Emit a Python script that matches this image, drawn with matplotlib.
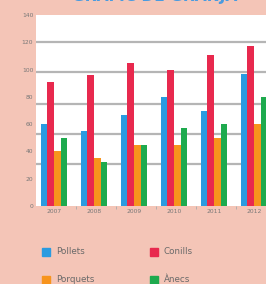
import numpy as np
import matplotlib
matplotlib.use("Agg")
import matplotlib.pyplot as plt
from matplotlib.patches import Rectangle

# data
years = ["2007", "2008", "2009", "2010", "2011", "2012"]
pollets = [60, 55, 67, 80, 70, 97]
conills = [91, 96, 105, 100, 111, 117]
porquets = [40, 35, 45, 45, 50, 60]
anecs = [50, 32, 45, 57, 60, 80]
series_names = ["Pollets", "Conills", "Porquets", "Ànecs"]
yticks = [0, 20, 40, 60, 80, 100, 120, 140]
grid_levels = [120, 98, 75, 53, 31]  # drawn lines don't sit on the labels in the original

bg = "#F4C5B7"
colors = ["#2A9BE0", "#E8294E", "#F7941D", "#1EAA4E"]
W, H = 266, 284

fig = plt.figure(figsize=(W / 100, H / 100), dpi=100, facecolor=bg)
ax = fig.add_axes([36 / W, 1 - 206 / H, 240 / W, 191 / H])
ax.set_facecolor("white")

x = np.arange(len(years))
bw = 0.165
for i, (vals, c) in enumerate(zip([pollets, conills, porquets, anecs], colors)):
    ax.bar(x + (i - 1.5) * bw - 0.05, vals, bw, color=c, zorder=3)

for g in grid_levels:
    ax.axhline(g, color="#b5b5b5", lw=1.6, zorder=1)

ax.set_xlim(-0.5, 5.5)
ax.set_ylim(0, 140)
ax.set_yticks(yticks)
ax.set_yticklabels([str(t) for t in yticks], fontsize=4.3, color="#777777")
ax.set_xticks(x - 0.05)
ax.set_xticklabels(years, fontsize=4.3, color="#777777")
ax.set_xticks(x[:-1] + 0.5, minor=True)
ax.tick_params(axis="both", which="major", length=0, pad=2)
ax.tick_params(axis="x", which="minor", length=2, color="#aaaaaa")
for s in ax.spines.values():
    s.set_visible(False)

# title, mostly cut off at the top of the picture (as in the original)
fig.text(155 / W, 1 - 1.5 / H, "GRÀFIC DE GRANJA", ha="center", va="baseline",
         fontsize=11.2, fontweight="bold", color="#4A9BE0")

# legend by hand
leg_pos = [(42, 248), (150, 248), (42, 276), (150, 276)]
for (lx, ly), name, c in zip(leg_pos, series_names, colors):
    fig.patches.append(Rectangle((lx / W, 1 - (ly + 8) / H), 8 / W, 8 / H,
                                 transform=fig.transFigure, color=c))
    fig.text((lx + 14) / W, 1 - (ly + 4) / H, name, ha="left", va="center",
             fontsize=6.3, color="#6a6a6a")

plt.savefig("out.png", dpi=100, facecolor=bg)
